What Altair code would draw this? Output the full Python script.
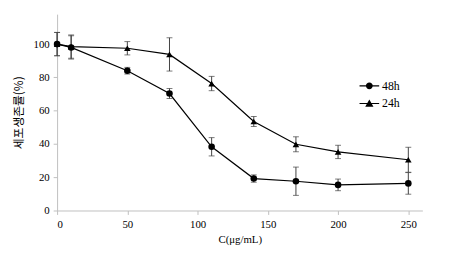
import altair as alt
import pandas as pd

conc = [0, 10, 50, 80, 110, 140, 170, 200, 250]
v48 = [100, 98, 84, 70.3, 38.3, 19.2, 17.6, 15.4, 16.3]
e48 = [7, 7, 2, 3, 5.5, 2.2, 8.5, 3.5, 6.5]
v24 = [100, 98.5, 97.5, 93.8, 76.3, 53.5, 39.8, 35.2, 30.5]
e24 = [7, 7, 4, 10, 4.3, 3, 4.5, 4, 7.5]
series = ["48h", "24h"]

rows = []
for name, vals, errs in [("48h", v48, e48), ("24h", v24, e24)]:
    for c, v, e in zip(conc, vals, errs):
        rows.append({"c": c, "v": v, "lo": v - e, "hi": v + e, "s": name})
df = pd.DataFrame(rows)

FONT = "Liberation Serif, Times New Roman, serif"
KFONT = "Noto Sans CJK KR"
YT = "세포생존률(%)"

x = alt.X("c:Q", title="C(μg/mL)",
          scale=alt.Scale(domain=[0, 260], nice=False),
          axis=alt.Axis(values=[0, 50, 100, 150, 200, 250], grid=False))
yaxis = alt.Axis(values=[0, 20, 40, 60, 80, 100], grid=False, labelOverlap=False,
                 titleFont=KFONT, titleFontSize=12)
y = alt.Y("v:Q", title=YT, scale=alt.Scale(domain=[0, 118], nice=False), axis=yaxis)

base = alt.Chart(df)

err = base.mark_errorbar(ticks={"size": 6}, color="#404040", thickness=1).encode(
    x="c:Q", y=alt.Y("lo:Q", title=YT, axis=yaxis), y2="hi:Q", detail="s:N")

lines = base.mark_line(color="black", strokeWidth=1.2).encode(
    x=x, y=y, detail="s:N")

pts = base.mark_point(filled=True, color="black", opacity=1, size=45).encode(
    x="c:Q", y=alt.Y("v:Q", title=YT, axis=yaxis),
    shape=alt.Shape("s:N", scale=alt.Scale(domain=series, range=["circle", "triangle-up"]),
                    legend=None))

circ = "M-1,-0.06H1V0.06H-1Z M0.35,0A0.35,0.35,0,1,1,-0.35,0A0.35,0.35,0,1,1,0.35,0Z"
tri = "M-1,-0.06H1V0.06H-1Z M0,-0.4L0.42,0.32L-0.42,0.32Z"
leg = base.mark_point(filled=True, color="black", opacity=0, size=1).encode(
    x="c:Q", y=alt.Y("v:Q", title=YT, axis=yaxis),
    shape=alt.Shape("s:N", scale=alt.Scale(domain=series, range=[circ, tri]),
                    legend=alt.Legend(title=None, orient="none", legendX=307, legendY=62,
                                      symbolSize=400, symbolOpacity=1, symbolFillColor="black",
                                      rowPadding=0, padding=0, labelFontSize=12,
                                      labelFont=FONT, labelColor="black", labelOffset=2)))

chart = alt.layer(err, lines, pts, leg).resolve_scale(shape="independent").properties(
    width=372, height=200,
    autosize=alt.AutoSizeParams(type="none"),
    padding={"left": 50, "top": 4, "right": 20, "bottom": 40},
).configure_view(stroke=None).configure_axis(
    domainColor="#bfbfbf", tickColor="#bfbfbf", tickSize=4, labelPadding=4,
    labelFont=FONT, labelFontSize=11, labelColor="black",
    titleFont=FONT, titleFontSize=11, titleFontWeight="normal", titleColor="black",
).configure_axisY(titlePadding=8).configure_axisX(titlePadding=5)

chart.save("out.html", embed_options={"renderer": "svg", "actions": False})
